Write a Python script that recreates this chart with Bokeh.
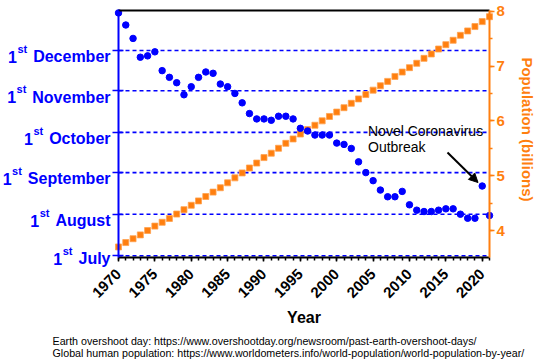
import math
import datetime
from bokeh.plotting import figure
from bokeh.models import (Range1d, LinearAxis, FixedTicker, SingleIntervalTicker,
                          Label, Arrow, NormalHead, ColumnDataSource)
from bokeh.embed import file_html
from bokeh.resources import INLINE

# ---------------- data ----------------
years = list(range(1970, 2022))
overshoot_dates = [
    "12-29", "12-20", "12-10", "11-26", "11-27", "11-30", "11-16", "11-11", "11-07", "10-29",
    "11-04", "11-11", "11-15", "11-14", "11-06", "11-04", "10-30", "10-23", "10-15", "10-11",
    "10-11", "10-10", "10-13", "10-13", "10-11", "10-04", "10-02", "09-29", "09-29", "09-29",
    "09-23", "09-22", "09-19", "09-09", "09-01", "08-26", "08-19", "08-14", "08-14", "08-18",
    "08-08", "08-04", "08-03", "08-03", "08-04", "08-05", "08-05", "08-01", "07-29", "07-29",
    "08-22", "07-31",
]
population_billions = [
    3.70, 3.78, 3.85, 3.92, 4.00, 4.08, 4.15, 4.22, 4.30, 4.38,
    4.46, 4.54, 4.62, 4.70, 4.78, 4.87, 4.96, 5.05, 5.14, 5.23,
    5.33, 5.41, 5.50, 5.59, 5.67, 5.76, 5.84, 5.92, 6.00, 6.08,
    6.16, 6.24, 6.32, 6.40, 6.48, 6.56, 6.64, 6.72, 6.81, 6.89,
    6.97, 7.05, 7.14, 7.22, 7.31, 7.39, 7.47, 7.56, 7.64, 7.72,
    7.81, 7.90,
]
month_names = ["July", "August", "September", "October", "November", "December"]
month_tick_dates = ["07-01", "08-01", "09-01", "10-01", "11-01", "12-01"]
x_title = "Year"
right_title = "Population (billions)"
source_lines = [
    "Earth overshoot day: https://www.overshootday.org/newsroom/past-earth-overshoot-days/",
    "Global human population: https://www.worldometers.info/world-population/world-population-by-year/",
]
note_lines = ["Novel Coronavirus", "Outbreak"]


def day_of_year(md):
    m, d = md.split("-")
    return datetime.date(2021, int(m), int(d)).timetuple().tm_yday


overshoot_day = [day_of_year(s) for s in overshoot_dates]
month_ticks = [day_of_year(s) for s in month_tick_dates]

# ---------------- styling / geometry ----------------
BLUE = "#0000FF"
ORANGE = "#FF7F0F"
FONT = "Liberation Sans"

W, H = 536, 362
AX_L, AX_R, AX_T, AX_B = 118, 489, 10, 257     # plot box in canvas px
PPY = (AX_R - AX_L) / 51.0                      # px per year
PPD = (255.3 - 50.0) / (335 - 182)              # px per day (Jul 1 -> Dec 1)
PPB = (230.0 - 10.7) / 4.0                      # px per billion


def px2x(sx):
    return 1970 + (sx - AX_L) / PPY


def px2y(sy):
    return 182 + (255.3 - sy) / PPD


def px2p(sy):
    return 4 + (230.0 - sy) / PPB


# the frame covers the whole canvas; the axes are pinned with fixed_location
p = figure(width=W, height=H, output_backend="svg", toolbar_location=None,
           x_range=Range1d(px2x(0), px2x(W)), y_range=Range1d(px2y(H), px2y(0)),
           x_axis_location=None, y_axis_location=None,
           min_border=0, min_border_left=0, min_border_right=0,
           min_border_top=0, min_border_bottom=0,
           background_fill_color="white", border_fill_color="white")
p.outline_line_color = None
for g in p.grid:
    g.visible = False
p.extra_y_ranges = {"pop": Range1d(px2p(H), px2p(0))}

X_LO, X_HI = 1970, 2021
Y_LO, Y_HI = px2y(AX_B), px2y(AX_T)

# dashed lines at the 1st of each month
p.segment(x0=X_LO, x1=X_HI, y0=month_ticks, y1=month_ticks,
          line_color=BLUE, line_width=1.6, line_dash="4 3")

# bottom axis
xaxis = LinearAxis(ticker=SingleIntervalTicker(interval=5, num_minor_ticks=5),
                   fixed_location=Y_LO, bounds=(X_LO, X_HI),
                   axis_line_color="black", axis_line_width=2,
                   major_tick_line_color="black", major_tick_line_width=1.5,
                   major_tick_in=0, major_tick_out=4,
                   minor_tick_line_color="black", minor_tick_line_width=1.5,
                   minor_tick_in=0, minor_tick_out=3,
                   major_label_orientation=0.785398,
                   major_label_standoff=10,
                   major_label_text_font=FONT, major_label_text_font_style="bold",
                   major_label_text_font_size="15px", major_label_text_color="black")
p.add_layout(xaxis, "below")

# left (date) axis, month labels drawn as text
yaxis = LinearAxis(ticker=FixedTicker(ticks=month_ticks), fixed_location=X_LO,
                   bounds=(Y_LO, Y_HI),
                   axis_line_color=BLUE, axis_line_width=2,
                   major_tick_line_color=BLUE, major_tick_line_width=1.5,
                   major_tick_in=5, major_tick_out=6,
                   minor_tick_line_color=None, minor_tick_out=0, minor_tick_in=0,
                   major_label_standoff=0,
                   major_label_overrides={t: "" for t in month_ticks})
p.add_layout(yaxis, "left")

# right axis: population
raxis = LinearAxis(y_range_name="pop", fixed_location=X_HI,
                   bounds=(px2p(AX_B), px2p(AX_T)),
                   ticker=SingleIntervalTicker(interval=1, num_minor_ticks=2),
                   axis_line_color=ORANGE, axis_line_width=2,
                   major_tick_line_color=ORANGE, major_tick_line_width=1.5,
                   major_tick_in=0, major_tick_out=5,
                   minor_tick_line_color=ORANGE, minor_tick_line_width=1.5,
                   minor_tick_in=0, minor_tick_out=3,
                   major_label_standoff=2,
                   major_label_text_font=FONT, major_label_text_font_style="bold",
                   major_label_text_font_size="15px", major_label_text_color=ORANGE)
p.add_layout(raxis, "right")

# top border line
taxis = LinearAxis(ticker=FixedTicker(ticks=[]), fixed_location=Y_HI, bounds=(X_LO, X_HI),
                   axis_line_color="black", axis_line_width=2,
                   major_tick_out=0, major_tick_in=0, minor_tick_out=0, minor_tick_in=0)
p.add_layout(taxis, "above")

# data
src = ColumnDataSource(dict(year=years, day=overshoot_day, pop=population_billions))
p.scatter("year", "pop", source=src, y_range_name="pop", marker="square", size=6,
          fill_color=ORANGE, line_color="#FFA24F", line_width=0.8)
p.scatter("year", "day", source=src, marker="circle", size=6.5,
          fill_color=BLUE, line_color=BLUE)

# axis titles
p.add_layout(Label(x=px2x(303.5), y=px2y(317), text=x_title,
                   text_align="center", text_baseline="alphabetic",
                   text_font=FONT, text_font_style="bold", text_font_size="16px",
                   text_color="black"))
p.add_layout(Label(x=px2x(527), y=px2y(129), text=right_title, angle=-math.pi / 2,
                   text_align="center", text_baseline="middle",
                   text_font=FONT, text_font_style="bold", text_font_size="15px",
                   text_color=ORANGE))

# month labels "1st Month"
ARIAL_BOLD = {" ": 278, "1": 556, "s": 556, "t": 333, "D": 722, "e": 556, "c": 556,
              "m": 889, "b": 611, "r": 389, "N": 722, "o": 611, "v": 556, "O": 778,
              "S": 667, "p": 611, "A": 722, "u": 611, "g": 611, "J": 556, "l": 278, "y": 556}


def text_w(t, size):
    return sum(ARIAL_BOLD[c] for c in t) * size / 1000.0


RIGHT_EDGE = 110 - AX_L
for i, (name, d) in enumerate(zip(month_names, month_ticks)):
    wm = text_w(name, 16)
    ws = text_w(" ", 16) + 1.5
    wst = text_w("st", 11) + 0.5
    base = -3.0 if i == 0 else -6.3      # lowest label sits a little higher
    common = dict(x=X_LO, y=d, text_align="right", text_baseline="alphabetic",
                  text_font=FONT, text_font_style="bold", text_color=BLUE)
    p.add_layout(Label(x_offset=RIGHT_EDGE, y_offset=base, text=name,
                       text_font_size="16px", **common))
    p.add_layout(Label(x_offset=RIGHT_EDGE - wm - ws, y_offset=base + 8.0, text="st",
                       text_font_size="11px", **common))
    p.add_layout(Label(x_offset=RIGHT_EDGE - wm - ws - wst, y_offset=base, text="1",
                       text_font_size="16px", **common))

# annotation
for i, t in enumerate(note_lines):
    p.add_layout(Label(x=px2x(367.5), y=px2y(130.7 + 16 * i), text=t,
                       text_align="left", text_baseline="alphabetic",
                       text_font=FONT, text_font_size="14px", text_color="black"))
p.add_layout(Arrow(x_start=px2x(447), y_start=px2y(152), x_end=px2x(477.5), y_end=px2y(182),
                   line_color="black", line_width=2,
                   end=NormalHead(size=9, fill_color="black", line_color="black")))

# source footer
for i, t in enumerate(source_lines):
    p.add_layout(Label(x=px2x(52), y=px2y(340 + 12.5 * i), text=t,
                       text_align="left", text_baseline="alphabetic",
                       text_font=FONT, text_font_size="10.7px", text_color="black"))

open("out.html", "w").write(file_html(p, INLINE))
